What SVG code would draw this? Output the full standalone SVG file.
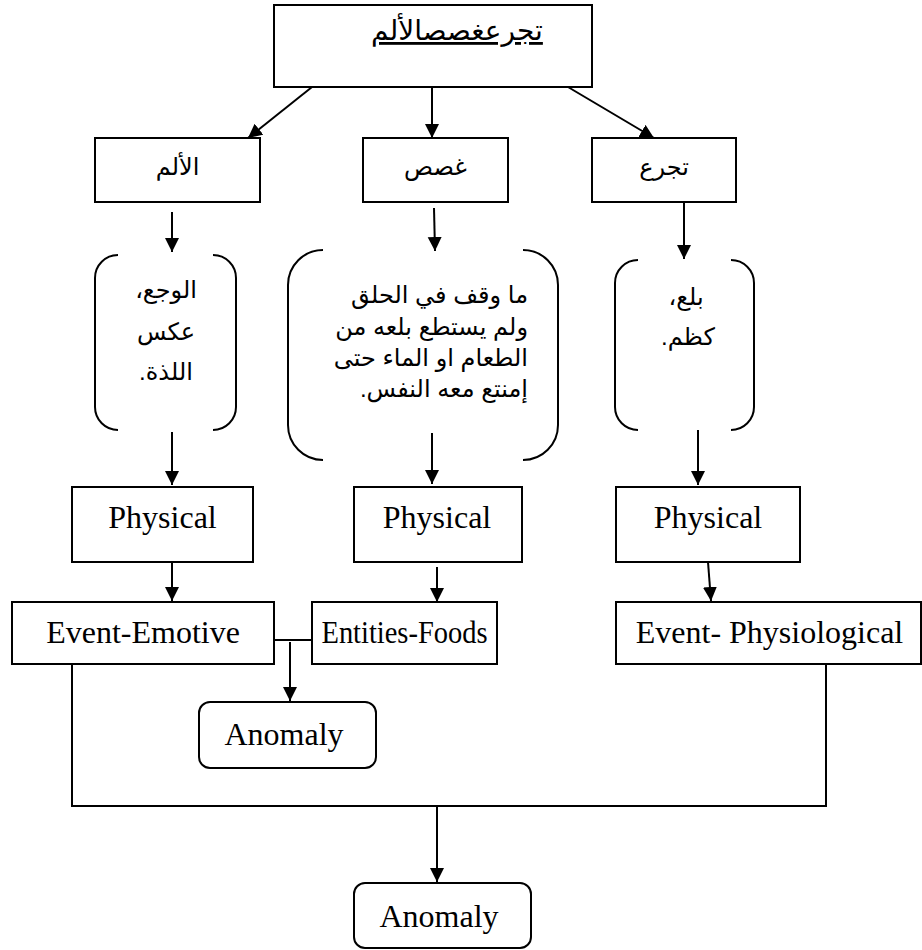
<svg xmlns="http://www.w3.org/2000/svg" width="922" height="950" viewBox="0 0 922 950">
  <style>
    .box { fill: #fff; stroke: #000; stroke-width: 2; }
    .br { fill: none; stroke: #000; stroke-width: 2; }
    .ln { fill: none; stroke: #000; stroke-width: 2; }
    .ar { font-family: "Liberation Sans", "DejaVu Sans", sans-serif; font-size: 24px; fill: #000; }
    .en { font-family: "Liberation Serif", "Times New Roman", serif; font-size: 32px; fill: #000; text-anchor: middle; }
  </style>
  <defs>
    <marker id="arrow" markerUnits="userSpaceOnUse" markerWidth="14" markerHeight="16" refX="14" refY="7" orient="auto">
      <path d="M0,0 L14,7 L0,14 Z" fill="#000"/>
    </marker>
  </defs>

  <!-- title -->
  <g id="title">
    <rect class="box" x="274" y="5" width="318" height="82"/>
    <text class="ar" x="457" y="40" direction="rtl" text-anchor="middle" text-decoration="underline" style="font-size:28px">تجرعغصصالألم</text>
  </g>

  <!-- word boxes -->
  <g id="alam">
    <rect class="box" x="95" y="138" width="165" height="64"/>
    <text class="ar" x="177.5" y="175" direction="rtl" text-anchor="middle">الألم</text>
  </g>
  <g id="ghasas">
    <rect class="box" x="363" y="138" width="145" height="64"/>
    <text class="ar" x="435.5" y="175" direction="rtl" text-anchor="middle">غصص</text>
  </g>
  <g id="tajarra">
    <rect class="box" x="592" y="138" width="144" height="64"/>
    <text class="ar" x="664" y="175" direction="rtl" text-anchor="middle">تجرع</text>
  </g>

  <!-- definitions in brackets -->
  <g id="def-alam">
    <path class="br" d="M118,255 A23,23 0 0 0 95,278 L95,407 A23,23 0 0 0 118,430"/>
    <path class="br" d="M213,255 A23,23 0 0 1 236,278 L236,407 A23,23 0 0 1 213,430"/>
    <text class="ar" x="166" y="298" direction="rtl" text-anchor="middle">الوجع،</text>
    <text class="ar" x="166" y="340" direction="rtl" text-anchor="middle">عكس</text>
    <text class="ar" x="166" y="380" direction="rtl" text-anchor="middle">اللذة.</text>
  </g>
  <g id="def-ghasas">
    <path class="br" d="M323,250 A35,35 0 0 0 288,285 L288,425 A35,35 0 0 0 323,460"/>
    <path class="br" d="M523,250 A35,35 0 0 1 558,285 L558,425 A35,35 0 0 1 523,460"/>
    <text class="ar" x="528" y="303" direction="rtl" text-anchor="start">ما وقف في الحلق</text>
    <text class="ar" x="528" y="335" direction="rtl" text-anchor="start">ولم يستطع بلعه من</text>
    <text class="ar" x="528" y="366" direction="rtl" text-anchor="start">الطعام او الماء حتى</text>
    <text class="ar" x="528" y="397" direction="rtl" text-anchor="start">إمنتع معه النفس.</text>
  </g>
  <g id="def-tajarra">
    <path class="br" d="M638,260 A23,23 0 0 0 615,283 L615,407 A23,23 0 0 0 638,430"/>
    <path class="br" d="M731,260 A23,23 0 0 1 754,283 L754,407 A23,23 0 0 1 731,430"/>
    <text class="ar" x="686" y="305" direction="rtl" text-anchor="middle">بلع،</text>
    <text class="ar" x="688" y="345" direction="rtl" text-anchor="middle">كظم.</text>
  </g>

  <!-- Physical boxes -->
  <g id="physical-1">
    <rect class="box" x="72" y="487" width="181" height="75"/>
    <text class="en" x="162.5" y="528">Physical</text>
  </g>
  <g id="physical-2">
    <rect class="box" x="354" y="487" width="168" height="75"/>
    <text class="en" x="437" y="528">Physical</text>
  </g>
  <g id="physical-3">
    <rect class="box" x="616" y="487" width="184" height="75"/>
    <text class="en" x="708" y="528">Physical</text>
  </g>

  <!-- categories -->
  <g id="event-emotive">
    <rect class="box" x="12" y="602" width="262" height="62"/>
    <text class="en" x="143" y="643">Event-Emotive</text>
  </g>
  <g id="entities-foods">
    <rect class="box" x="312" y="602" width="185" height="62"/>
    <text class="en" x="404.5" y="643" textLength="166" lengthAdjust="spacingAndGlyphs">Entities-Foods</text>
  </g>
  <g id="event-physiological">
    <rect class="box" x="616" y="602" width="305" height="62"/>
    <text class="en" x="769.5" y="643">Event- Physiological</text>
  </g>

  <!-- results -->
  <g id="anomaly-1">
    <rect class="box" x="199" y="702" width="177" height="66" rx="11"/>
    <text class="en" x="284" y="745">Anomaly</text>
  </g>
  <g id="anomaly-2">
    <rect class="box" x="354" y="883" width="177" height="65" rx="11"/>
    <text class="en" x="439" y="927">Anomaly</text>
  </g>

  <!-- connectors -->
  <g id="connectors">
    <line class="ln" x1="312" y1="87" x2="248" y2="138" marker-end="url(#arrow)"/>
    <line class="ln" x1="432" y1="87" x2="432" y2="138" marker-end="url(#arrow)"/>
    <line class="ln" x1="568" y1="87" x2="654" y2="138" marker-end="url(#arrow)"/>

    <line class="ln" x1="172" y1="212" x2="172" y2="252" marker-end="url(#arrow)"/>
    <line class="ln" x1="434" y1="208" x2="435" y2="251" marker-end="url(#arrow)"/>
    <line class="ln" x1="684" y1="202" x2="684" y2="259" marker-end="url(#arrow)"/>

    <line class="ln" x1="172" y1="432" x2="172" y2="485" marker-end="url(#arrow)"/>
    <line class="ln" x1="432" y1="433" x2="432" y2="484" marker-end="url(#arrow)"/>
    <line class="ln" x1="698" y1="430" x2="698" y2="485" marker-end="url(#arrow)"/>

    <line class="ln" x1="172" y1="562" x2="172" y2="601" marker-end="url(#arrow)"/>
    <line class="ln" x1="437" y1="567" x2="437" y2="602" marker-end="url(#arrow)"/>
    <line class="ln" x1="708" y1="562" x2="711" y2="601" marker-end="url(#arrow)"/>

    <line class="ln" x1="274" y1="640" x2="312" y2="640"/>
    <line class="ln" x1="290" y1="642" x2="290" y2="701" marker-end="url(#arrow)"/>

    <polyline class="ln" points="72,664 72,806 826,806 826,664"/>
    <line class="ln" x1="437" y1="806" x2="437" y2="882" marker-end="url(#arrow)"/>
  </g>
</svg>
